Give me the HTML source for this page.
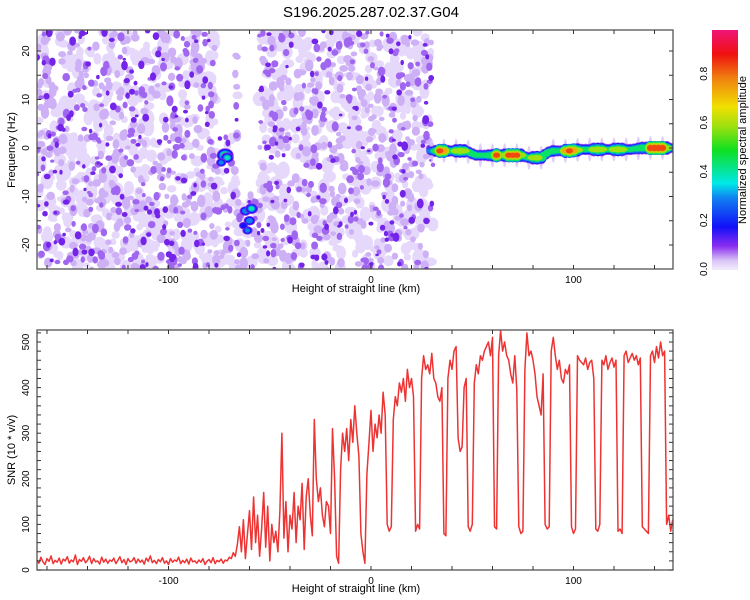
<!DOCTYPE html>
<html><head><meta charset="utf-8">
<style>
html,body{margin:0;padding:0;background:#fff;}
svg{display:block;font-family:"Liberation Sans",sans-serif;}
</style></head>
<body>
<svg id="chart" width="750" height="600" viewBox="0 0 750 600">
<defs>
<clipPath id="clipTop"><rect x="37" y="30" width="636" height="239"/></clipPath>
<clipPath id="clipBot"><rect x="37" y="330" width="636" height="240"/></clipPath>
<linearGradient id="cbar" x1="0" y1="1" x2="0" y2="0">
<stop offset="0" stop-color="#f4ecfc"/>
<stop offset="0.04" stop-color="#d8c4f6"/>
<stop offset="0.1" stop-color="#8a2cf0"/>
<stop offset="0.18" stop-color="#1010f8"/>
<stop offset="0.3" stop-color="#1080f0"/>
<stop offset="0.36" stop-color="#00e8e8"/>
<stop offset="0.5" stop-color="#10e020"/>
<stop offset="0.6" stop-color="#a0e010"/>
<stop offset="0.68" stop-color="#f0e000"/>
<stop offset="0.8" stop-color="#f08010"/>
<stop offset="0.9" stop-color="#f01010"/>
<stop offset="1" stop-color="#f01478"/>
</linearGradient>
</defs>
<text x="371" y="17" text-anchor="middle" font-size="15" fill="#000">S196.2025.287.02.37.G04</text>
<g id="heat" clip-path="url(#clipTop)"></g>
<g id="axesTop"></g>
<g id="snr" clip-path="url(#clipBot)"></g>
<g id="axesBot"></g>
<rect x="712" y="30" width="26" height="240" fill="url(#cbar)"/>
<g id="cbAxis"></g>
<text transform="translate(746,150) rotate(-90)" text-anchor="middle" font-size="11">Normalized spectral amplitude</text>
<text transform="translate(15,150) rotate(-90)" text-anchor="middle" font-size="11">Frequency (Hz)</text>
<text x="356" y="292" text-anchor="middle" font-size="11">Height of straight line (km)</text>
<text transform="translate(15,450) rotate(-90)" text-anchor="middle" font-size="11">SNR (10 * v/v)</text>
<text x="356" y="592" text-anchor="middle" font-size="11">Height of straight line (km)</text>
</svg>
<script>
// ---------- data ----------
const snrStartKm = -165;
const snrValues = [
22,15,28,18,12,25,19,31,14,21,
17,26,13,24,20,29,15,22,18,33,
12,23,19,27,16,21,30,14,25,18,
20,13,28,17,24,15,22,19,26,14,
21,29,16,23,12,25,18,20,27,15,
24,17,22,13,26,19,31,16,21,14,
23,18,27,15,20,12,25,17,22,19,
28,14,21,16,24,13,26,18,20,15,
22,17,25,12,19,23,16,27,14,21,
18,24,15,22,20,28,25,38,30,55,
95,40,110,25,80,130,45,160,60,120,
30,90,170,50,140,20,100,60,85,40,
130,300,70,150,40,120,90,170,60,140,
110,190,45,160,200,120,75,330,200,150,
180,120,95,150,140,80,310,200,30,15,
220,300,260,310,240,330,280,360,300,250,
80,40,15,210,280,350,260,320,290,340,
300,390,340,100,85,95,330,380,360,410,
390,420,370,440,400,420,380,85,100,90,
420,470,440,450,430,475,420,410,380,370,
400,80,75,420,460,440,480,490,290,260,
270,400,420,95,85,100,410,450,430,470,
460,480,490,500,470,510,95,90,470,525,
480,500,470,460,430,410,470,395,95,80,
85,440,520,470,480,460,430,380,360,340,
430,100,90,95,480,510,470,440,460,420,
410,440,430,450,95,80,90,470,460,455,
450,465,440,455,460,420,90,85,100,460,
450,470,440,455,465,445,460,85,90,80,
470,480,455,465,475,460,470,450,465,95,
90,85,80,470,480,455,490,465,500,470,
480,100,120,85,110];
const trackKm   = [30,32,34,36,38,40,42,44,46,48,50,52,54,56,58,60,62,64,66,68,70,72,74,76,78,80,82,84,86,88,90,92,94,96,98,100,102,104,106,108,110,112,114,116,118,120,122,124,126,128,130,132,134,136,138,140,142,144,146,148];
const trackFreq = [-0.6,-0.6,-0.6,-0.6,-0.6,-0.6,-0.6,-0.6,-0.6,-0.8,-1.2,-1.5,-1.5,-1.5,-1.5,-1.5,-1.5,-1.5,-1.5,-1.5,-1.5,-1.5,-1.5,-1.8,-2,-2,-2,-2,-1.3,-0.8,-0.6,-0.6,-0.6,-0.6,-0.6,-0.5,-0.4,-0.3,-0.3,-0.3,-0.3,-0.3,-0.3,-0.3,-0.3,-0.3,-0.3,-0.3,-0.3,-0.3,-0.2,-0.1,0,0,0,0,0,0,0,0];
const trackAmp  = [0.35,0.5,0.85,0.8,0.5,0.45,0.6,0.65,0.6,0.45,0.45,0.45,0.45,0.45,0.5,0.55,0.85,0.5,0.6,0.85,0.85,0.85,0.6,0.45,0.45,0.6,0.65,0.55,0.45,0.45,0.5,0.45,0.45,0.75,0.85,0.8,0.6,0.45,0.45,0.45,0.6,0.65,0.6,0.45,0.45,0.6,0.65,0.6,0.45,0.45,0.45,0.5,0.55,0.55,0.9,0.92,0.92,0.9,0.6,0.4];
const blobKm   = [-72,-71,-74,-62,-60,-59,-61,-63];
const blobFreq = [-1.5,-2,-3,-13,-15,-12.5,-17,-16];
const blobAmp  = [0.55,0.4,0.3,0.35,0.35,0.4,0.3,0.25];
const xTicks = [-100,0,100];
const freqTicks = [-20,-10,0,10,20];
const snrTicks = [0,100,200,300,400,500];
const cbTicks = [0.0,0.2,0.4,0.6,0.8];

// ---------- scales ----------
const xs = km => 371 + km*2.025;
const yf = f => 148 - f*4.85;
const ys = v => 570 - v*0.456;
const NS='http://www.w3.org/2000/svg';
function mk(tag, attrs, parent){const e=document.createElementNS(NS,tag);for(const k in attrs)e.setAttribute(k,attrs[k]);parent.appendChild(e);return e;}
function cmap(a){
  const st=[[0,[244,236,252]],[0.05,[200,170,245]],[0.12,[130,40,235]],[0.2,[20,20,248]],[0.3,[16,128,240]],[0.36,[0,232,232]],[0.5,[16,224,32]],[0.6,[160,224,16]],[0.68,[240,224,0]],[0.8,[240,128,16]],[0.9,[240,16,16]],[1,[240,20,120]]];
  for(let i=1;i<st.length;i++){if(a<=st[i][0]){const t=(a-st[i-1][0])/(st[i][0]-st[i-1][0]);const c=st[i-1][1].map((v,j)=>Math.round(v+(st[i][1][j]-v)*t));return `rgb(${c})`;}}
  return 'rgb(240,20,120)';
}

// ---------- heatmap background texture ----------
const heat=document.getElementById('heat');
let seed=12345;function rnd(){seed=(seed*1103515245+12345)%2147483648;return seed/2147483648;}
function inGap(x,y){return (x>238&&x<259&&y<195)||(x>216&&x<234&&y<135);}
const layers=[[900,3,6.5,'#e6d8fa'],[650,2.5,4.5,'#cdb0f5'],[380,2,3.8,'#a066f0'],[230,1.6,3.4,'#7424e8']];
for(const [n,r0,r1,col] of layers){
  for(let i=0;i<n;i++){
    const x=37+rnd()*398, y=30+rnd()*240, rx=r0+rnd()*(r1-r0), ry=rx*(0.7+rnd()*0.8);
    if(inGap(x,y)||x>433) continue;
    const e=mk('ellipse',{cx:x.toFixed(1),cy:y.toFixed(1),rx:rx.toFixed(1),ry:ry.toFixed(1),fill:col},heat);
    
    
  }
}
// vertical smears on right side
for(let i=0;i<trackKm.length;i+=3){
  const x=xs(trackKm[i]);
  const e=mk('ellipse',{cx:x,cy:yf(trackFreq[i]),rx:2,ry:12,fill:'#d8c0f6',opacity:0.8},heat);
  
  
}
// isolated blobs
blobKm.forEach((k,i)=>{
  const levels=[0.12,0.2,0.3,0.4,0.5,0.6];
  levels.forEach((lv,j)=>{ if(blobAmp[i]>=lv){
    const s=(blobAmp[i]-lv)*12+2.5;
    const e=mk('ellipse',{cx:xs(k),cy:yf(blobFreq[i]),rx:s*1.1,ry:s*0.9,fill:cmap(lv)},heat);
    
    
  }});
});
// track
const trackLevels=[0.1,0.2,0.3,0.45,0.6,0.75,0.85];
trackLevels.forEach(lv=>{
  trackKm.forEach((k,i)=>{
    const a=trackAmp[i];
    if(a<lv) return;
    const h=(a-lv)*9+2.5;
    const e=mk('ellipse',{cx:xs(k),cy:yf(trackFreq[i]),rx:lv>0.6?3.5:5.5,ry:Math.min(h,7),fill:cmap(lv)},heat);
    
    
  });
});

// ---------- axes ----------
function frame(g,y0,y1){
  const r=mk('rect',{x:37,y:y0,width:636,height:y1-y0,fill:'none',stroke:'#555','stroke-width':1.3},g);
  
  
  for(let k=-160;k<=140;k+=20){
    const x=xs(k);
    const t1=mk('line',{x1:x,x2:x,y1:y1,y2:y1-4,stroke:'#333'},g);
    
    
    const t2=mk('line',{x1:x,x2:x,y1:y0,y2:y0+4,stroke:'#333'},g);
    
    
  }
  xTicks.forEach(k=>{
    const t=mk('text',{x:xs(k),y:y1+14,'text-anchor':'middle','font-size':10},g);
    t.textContent=k;
    
    
  });
}
const aT=document.getElementById('axesTop');
frame(aT,30,269);
for(let f=-25;f<=25;f+=5){
  const y=yf(f); if(y<30||y>269) continue;
  [[37,41],[673,669]].forEach(([a,b])=>{
    const l=mk('line',{x1:a,x2:b,y1:y,y2:y,stroke:'#333'},aT);
    
    
  });
}
freqTicks.forEach(f=>{
  const t=mk('text',{transform:`translate(29,${yf(f)}) rotate(-90)`,'text-anchor':'middle','font-size':10},aT);
  t.textContent=f;
  
  
});
const aB=document.getElementById('axesBot');
frame(aB,330,570);
for(let v=0;v<=520;v+=20){
  const y=ys(v);
  [[37,41],[673,669]].forEach(([a,b])=>{
    const l=mk('line',{x1:a,x2:b,y1:y,y2:y,stroke:'#333'},aB);
    
    
  });
}
snrTicks.forEach(v=>{
  const t=mk('text',{transform:`translate(29,${ys(v)}) rotate(-90)`,'text-anchor':'middle','font-size':10},aB);
  t.textContent=v;
  
  
});
// colorbar ticks
const cb=document.getElementById('cbAxis');
cbTicks.forEach(v=>{
  const y=269-v*244;
  const t=mk('text',{transform:`translate(707,${y}) rotate(-90)`,'text-anchor':'middle','font-size':10},cb);
  t.textContent=v.toFixed(1);
  
  
});

// ---------- SNR line ----------
const snr=document.getElementById('snr');
const pts=snrValues.map((v,i)=>`${xs(snrStartKm+i).toFixed(1)},${ys(v).toFixed(1)}`).join(' ');
const pl=mk('polyline',{points:pts,fill:'none',stroke:'#ee3333','stroke-width':1.5,'stroke-linejoin':'round'},snr);


</script>
</body></html>
